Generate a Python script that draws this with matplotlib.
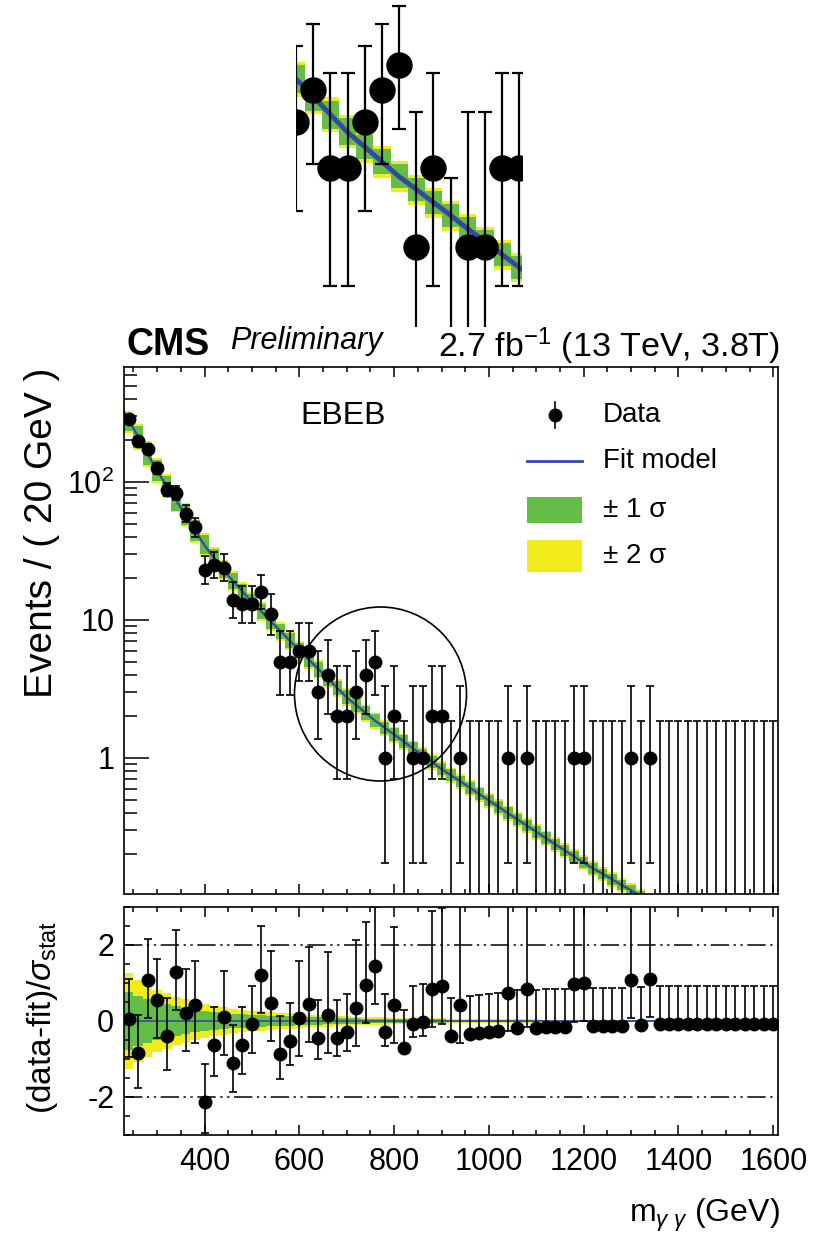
import math
import numpy as np
import matplotlib
matplotlib.use('Agg')
import matplotlib.pyplot as plt
from matplotlib.patches import Rectangle, Ellipse
from matplotlib.lines import Line2D
from matplotlib.transforms import IdentityTransform
from matplotlib.ticker import MultipleLocator, FixedLocator, FixedFormatter, NullFormatter

plt.rcParams['font.family'] = ['Liberation Sans', 'DejaVu Sans']
plt.rcParams['mathtext.fontset'] = 'custom'
plt.rcParams['mathtext.rm'] = 'Liberation Sans'
plt.rcParams['mathtext.it'] = 'Liberation Sans:italic'
plt.rcParams['mathtext.bf'] = 'Liberation Sans:bold'
plt.rcParams['mathtext.sf'] = 'Liberation Sans'
plt.rcParams['axes.unicode_minus'] = False

# ---------------- data ----------------
bin_width = 20
mass_centers = np.arange(240, 1601, bin_width)          # 69 bins, 230-1610 GeV

counts = [285, 198, 173, 126, 88, 83, 59, 47, 23, 25,
          24, 14, 13, 13, 16, 11, 5, 5, 6, 6,
          3, 4, 2, 2, 3, 4, 5, 1, 2, 0,
          1, 1, 2, 2, 0, 1, 0, 0, 0, 0,
          1, 0, 1, 0, 0, 0, 0, 1, 1, 0,
          0, 0, 0, 1, 0, 1, 0, 0, 0, 0,
          0, 0, 0, 0, 0, 0, 0, 0, 0]

fit_start_mass = 230
fit_start_value = 324
fit_values = [281.8, 212, 160, 120, 94.0, 73.6, 57.5, 44.7, 34.7, 28.2,
              22.9, 19.2, 16.1, 13.5, 11.5, 9.77, 8.32, 7.08, 6.03, 5.15,
              4.41, 3.77, 3.22, 2.75, 2.42, 2.12, 1.86, 1.66, 1.48, 1.32,
              1.17, 1.05, 0.933, 0.832, 0.750, 0.676, 0.608, 0.547, 0.492, 0.443,
              0.398, 0.359, 0.324, 0.292, 0.263, 0.237, 0.214, 0.193, 0.174, 0.158,
              0.145, 0.132, 0.120, 0.110, 0.100, 0.091, 0.084, 0.078, 0.071, 0.066,
              0.061, 0.056, 0.052, 0.048, 0.044, 0.040, 0.037, 0.034, 0.032]

pulls = [0.04, -0.83, 1.09, 0.54, -0.39, 1.29, 0.22, 0.41, -2.14, -0.63,
         0.10, -1.11, -0.63, -0.09, 1.21, 0.48, -0.88, -0.53, 0.07, 0.44,
         -0.44, 0.16, -0.44, -0.29, 0.35, 0.96, 1.44, -0.29, 0.42, -0.70,
         -0.07, -0.03, 0.84, 0.92, -0.39, 0.41, -0.33, -0.32, -0.30, -0.25,
         0.74, -0.19, 0.84, -0.18, -0.16, -0.16, -0.15, 0.97, 1.00, -0.13,
         -0.13, -0.12, -0.12, 1.07, -0.10, 1.10, -0.09, -0.09, -0.09, -0.08,
         -0.08, -0.08, -0.08, -0.07, -0.07, -0.07, -0.07, -0.07, -0.07]

rel_unc_1sigma = 0.045   # relative fit uncertainty (band)
rel_unc_2sigma = 0.075

x_ticks = [400, 600, 800, 1000, 1200, 1400, 1600]
y_ticks_main = [1, 10, 100]
y_tick_labels_main = ['1', '10', '10$^{2}$']
y_ticks_ratio = [-2, 0, 2]

GREEN = '#64be46'
YELLOW = '#f3ec1d'
BLUE = '#3548a3'

counts = np.array(counts, dtype=float)
fit_values = np.array(fit_values)
pulls = np.array(pulls)


# ---------------- Poisson (Garwood) intervals ----------------
def pois_cdf(k, mu):
    if mu <= 0:
        return 1.0
    lm = math.log(mu)
    return sum(math.exp(j * lm - mu - math.lgamma(j + 1)) for j in range(k + 1))


def garwood(n):
    a = 0.158655
    lo, hi = float(n), n + 10 * math.sqrt(n + 1) + 10
    for _ in range(70):
        mid = 0.5 * (lo + hi)
        if pois_cdf(n, mid) > a:
            lo = mid
        else:
            hi = mid
    mu_up = 0.5 * (lo + hi)
    if n == 0:
        mu_lo = 0.0
    else:
        lo, hi = 0.0, float(n)
        for _ in range(70):
            mid = 0.5 * (lo + hi)
            if pois_cdf(n - 1, mid) > 1 - a:
                lo = mid
            else:
                hi = mid
        mu_lo = 0.5 * (lo + hi)
    return n - mu_lo, mu_up - n


errs = np.array([garwood(int(n)) for n in counts])
err_lo, err_up = errs[:, 0], errs[:, 1]

# ---------------- figure ----------------
W, H = 821, 1235
fig = plt.figure(figsize=(W / 100, H / 100), dpi=100)


def fx(px):
    return px / W


def fy(py):
    return 1 - py / H


L, R = 124, 778
ax = fig.add_axes([fx(L), fy(894), (R - L) / W, (894 - 367) / H])
axr = fig.add_axes([fx(L), fy(1135), (R - L) / W, (1135 - 907) / H])

# band edges for the step-like band
prev = np.concatenate([[fit_start_value], fit_values[:-1]])
nxt = np.concatenate([fit_values[1:], [fit_values[-1] ** 2 / fit_values[-2]]])
f_up_edge = np.sqrt(prev * fit_values)
f_dn_edge = np.sqrt(fit_values * nxt)
fit_mass = np.concatenate([[fit_start_mass], mass_centers])
fit_line = np.concatenate([[fit_start_value], fit_values])

nz = counts > 0
zz = ~nz


def draw_content(a, ms, elw, cap, flw):
    for r, col in ((rel_unc_2sigma, YELLOW), (rel_unc_1sigma, GREEN)):
        bottom = f_dn_edge * (1 - r)
        top = f_up_edge * (1 + r)
        a.bar(mass_centers, top - bottom, bottom=bottom, width=bin_width,
              color=col, linewidth=0, zorder=1)
    a.plot(fit_mass, fit_line, color=BLUE, lw=flw, zorder=2)
    a.errorbar(mass_centers[nz], counts[nz], yerr=[err_lo[nz], err_up[nz]],
               fmt='o', color='black', ms=ms, elinewidth=elw, capsize=cap,
               capthick=elw, zorder=4)
    base = np.full(zz.sum(), 1e-3)
    a.errorbar(mass_centers[zz], base, yerr=[np.zeros(zz.sum()), err_up[zz] - 1e-3],
               fmt='none', ecolor='black', elinewidth=elw, capsize=cap,
               capthick=elw, zorder=3)


draw_content(ax, 9, 1.2, 3, 1.6)
ax.set_yscale('log')
ax.set_xlim(230, 1610)
ax.set_ylim(0.1034, 681)
ax.xaxis.set_major_locator(FixedLocator(x_ticks))
ax.xaxis.set_minor_locator(MultipleLocator(50))
ax.xaxis.set_major_formatter(NullFormatter())
ax.yaxis.set_major_locator(FixedLocator(y_ticks_main))
ax.yaxis.set_major_formatter(FixedFormatter(y_tick_labels_main))
minors = [m * 10.0 ** e for e in (-1, 0, 1, 2) for m in range(2, 10) if m * 10.0 ** e < 681]
ax.yaxis.set_minor_locator(FixedLocator(minors))
ax.yaxis.set_minor_formatter(NullFormatter())
ax.tick_params(axis='x', which='both', direction='in', top=True, bottom=True)
ax.tick_params(axis='x', which='major', length=7, width=1.1)
ax.tick_params(axis='x', which='minor', length=3.5, width=1.1)
ax.tick_params(axis='y', which='major', direction='in', length=18, width=1.1,
               labelsize=22, pad=7)
ax.tick_params(axis='y', which='minor', direction='in', length=9, width=1.1)
for s in ax.spines.values():
    s.set_linewidth(1.2)

# ---------------- ratio panel ----------------
b1 = rel_unc_1sigma * np.sqrt(fit_values)
b2 = rel_unc_2sigma * np.sqrt(fit_values)
axr.bar(mass_centers, 2 * b2, bottom=-b2, width=bin_width, color=YELLOW, lw=0, zorder=1)
axr.bar(mass_centers, 2 * b1, bottom=-b1, width=bin_width, color=GREEN, lw=0, zorder=1)
axr.axhline(0, color=BLUE, lw=1.2, zorder=2)
for yv in (2, -2):
    axr.axhline(yv, color='black', lw=1.1, dashes=(12, 3, 1.5, 3, 1.5, 3), zorder=2)

sigma = np.where(pulls >= 0, np.where(err_lo > 0, err_lo, err_up), err_up)
r_lo = err_lo / sigma
r_up = err_up / sigma
axr.errorbar(mass_centers, pulls, yerr=[r_lo, r_up], fmt='o', color='black',
             ms=9, elinewidth=1.2, capsize=3, capthick=1.2, zorder=4)
axr.set_xlim(230, 1610)
axr.set_ylim(-3, 3)
axr.xaxis.set_major_locator(FixedLocator(x_ticks))
axr.xaxis.set_minor_locator(MultipleLocator(50))
axr.yaxis.set_major_locator(FixedLocator(y_ticks_ratio))
axr.yaxis.set_minor_locator(MultipleLocator(0.5))
axr.tick_params(axis='x', which='both', direction='in', top=True, bottom=True,
                labelsize=22, pad=9)
axr.tick_params(axis='x', which='major', length=7, width=1.1)
axr.tick_params(axis='x', which='minor', length=3.5, width=1.1)
axr.tick_params(axis='y', which='major', direction='in', length=7, width=1.1,
                labelsize=22, pad=7)
axr.tick_params(axis='y', which='minor', direction='in', length=4, width=1.1)
for s in axr.spines.values():
    s.set_linewidth(1.2)

# ---------------- inset (magnified circled region) ----------------
axi = fig.add_axes([fx(296), fy(327), 225.7 / W, 327 / H])
draw_content(axi, 18, 1.6, 5, 3.5)
axi.set_yscale('log')
axi.set_xlim(640, 902.7)
axi.set_ylim(0.492, 8.86)
axi.set_axis_off()
axi.patch.set_visible(False)

# circle around region of interest
fig.add_artist(Ellipse((380.5, H - 694), 172, 174, transform=IdentityTransform(),
                       fill=False, ec='black', lw=1.2))

# ---------------- texts ----------------
fig.text(fx(127), fy(355), 'CMS', fontsize=27, fontweight='bold', va='baseline')
fig.text(fx(230), fy(349), 'Preliminary', fontsize=22, style='italic', va='baseline')
fig.text(fx(780), fy(357), '2.7 fb$^{-1}$ (13 TeV, 3.8T)', fontsize=24.5,
         ha='right', va='baseline')
fig.text(fx(300), fy(424), 'EBEB', fontsize=23, va='baseline')
fig.text(fx(42), fy(368), 'Events / ( 20 GeV )', fontsize=28, rotation=90,
         ha='center', va='top')
fig.text(fx(42), fy(1017), '(data-fit)/$\\sigma_{\\mathrm{stat}}$', fontsize=24,
         rotation=90, ha='center', va='center')
fig.text(fx(780), fy(1222), 'm$_{\\gamma\\ \\gamma}$ (GeV)', fontsize=23,
         ha='right', va='baseline')

# legend (drawn manually to match placement)
leg_x0, leg_x1, leg_tx = 527, 582, 603
mid = 0.5 * (leg_x0 + leg_x1)
fig.add_artist(Line2D([fx(mid), fx(mid)], [fy(402), fy(428)], color='black', lw=1.2))
fig.add_artist(Line2D([fx(mid)], [fy(415)], marker='o', ms=9, color='black', lw=0))
fig.add_artist(Line2D([fx(leg_x0), fx(leg_x1)], [fy(461), fy(461)], color=BLUE, lw=2))
fig.add_artist(Rectangle((fx(leg_x0), fy(523)), (leg_x1 - leg_x0) / W, 26 / H,
                         transform=fig.transFigure, color=GREEN, lw=0))
fig.add_artist(Rectangle((fx(leg_x0), fy(572)), (leg_x1 - leg_x0) / W, 32 / H,
                         transform=fig.transFigure, color=YELLOW, lw=0))
for ty, txt in ((415, 'Data'), (461, 'Fit model'), (510, '± 1 σ'), (556, '± 2 σ')):
    fig.text(fx(leg_tx), fy(ty), txt, fontsize=20, va='center')

fig.savefig('out.png', dpi=100)
